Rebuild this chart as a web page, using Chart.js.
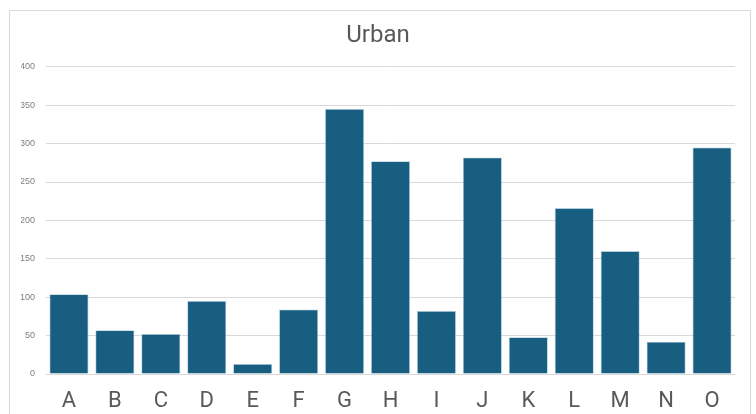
<!DOCTYPE html>
<html>
<head>
<meta charset="utf-8">
<script src="https://cdn.jsdelivr.net/npm/chart.js@4.4.1/dist/chart.umd.min.js"></script>
<style>
  html, body { margin: 0; padding: 0; background: #ffffff; overflow: hidden; }
  #wrap { position: relative; width: 756px; height: 414px; }
  #frame {
    position: absolute; left: 9px; top: 10px; width: 742px; height: 420px;
    border: 1px solid #d9d9d9; box-sizing: border-box;
  }
  #chart { position: absolute; left: 0; top: 0; }
</style>
</head>
<body>
<div id="wrap">
  <div id="frame"></div>
  <canvas id="chart" width="756" height="414"></canvas>
</div>
<script>
// Groups along the x axis
const categories = ['A', 'B', 'C', 'D', 'E', 'F', 'G', 'H', 'I', 'J', 'K', 'L', 'M', 'N', 'O'];
// Urban counts per group
const urbanValues = [104, 57, 52, 95, 13, 84, 345, 277, 82, 282, 48, 216, 160, 42, 295];
// Value axis ticks
const yTicks = [0, 50, 100, 150, 200, 250, 300, 350, 400];

const barColor = '#175e80';
const gridColor = '#d9d9d9';

new Chart(document.getElementById('chart'), {
  type: 'bar',
  data: {
    labels: categories,
    datasets: [{
      label: 'Urban',
      data: urbanValues,
      backgroundColor: barColor,
      borderColor: 'rgba(120,170,195,0.6)',
      borderWidth: 0.8,
      barPercentage: 0.85,
      categoryPercentage: 1.0
    }]
  },
  options: {
    responsive: false,
    animation: false,
    devicePixelRatio: 1,
    layout: { padding: { left: 21, right: 21, top: 0, bottom: 0 } },
    plugins: {
      legend: { display: false },
      tooltip: { enabled: false },
      title: {
        display: true,
        text: 'Urban',
        color: '#595959',
        font: { family: 'Roboto, "Liberation Sans", sans-serif', size: 24, weight: 'normal' },
        padding: { top: 22, bottom: 16 }
      }
    },
    scales: {
      x: {
        grid: { display: false },
        border: { display: false },
        ticks: {
          color: '#595959',
          font: { family: 'Roboto, "Liberation Sans", sans-serif', size: 22 },
          padding: 6,
          maxRotation: 0
        },
        afterFit(scale) { scale.height = 40; }
      },
      y: {
        min: 0,
        max: 400,
        afterBuildTicks(scale) { scale.ticks = yTicks.map(v => ({ value: v })); },
        grid: { color: gridColor, lineWidth: 1, drawTicks: false },
        border: { display: false },
        ticks: {
          color: '#7f7f7f',
          font: { family: '"Liberation Sans", Arial, sans-serif', size: 9 },
          padding: 11
        },
        afterFit(scale) { scale.width = 25; }
      }
    }
  }
});
</script>
</body>
</html>
